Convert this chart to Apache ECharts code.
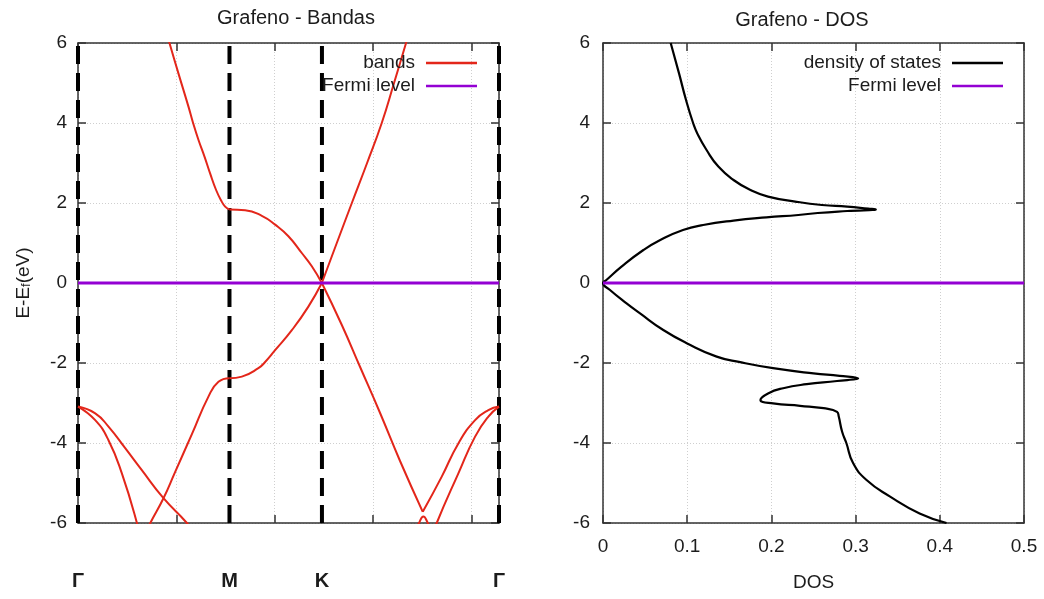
<!DOCTYPE html>
<html><head><meta charset="utf-8">
<script src="https://cdn.jsdelivr.net/npm/echarts@6/dist/echarts.min.js"></script>
<style>html,body{margin:0;padding:0;background:#fff}#c{width:1044px;height:599px}</style>
</head><body><div id="c"></div>
<script>
// ---- k-path (high-symmetry points) ----
const kPoints = [0, 1.54, 2.48, 4.28];
const kLabels = ['Γ', 'M', 'K', 'Γ'];
const energyRange = [-6, 6];
const fermiLevel = 0;
const dosRange = [0, 0.5];

// ---- band segments, [k, E(eV)] ----
const piStarGM = [[0.866,6.55],[0.930,6.0],[1.021,5.24],[1.123,4.41],[1.170,4.0],[1.225,3.575],[1.286,3.16],[1.343,2.74],[1.404,2.325],[1.452,2.075],[1.496,1.91],[1.54,1.84]];
const piStarMK = [[1.54,1.84],[1.699,1.82],[1.869,1.68],[2.004,1.46],[2.139,1.17],[2.275,0.75],[2.377,0.42],[2.479,0.0]];
const piStarKG = [[2.479,0.0],[2.631,1.0],[2.784,2.0],[2.939,3.0],[3.088,4.0],[3.213,5.0],[3.335,6.0],[3.396,6.5]];
const piKM = [[2.479,0.0],[2.342,-0.59],[2.174,-1.18],[2.004,-1.68],[1.900,-1.98],[1.834,-2.13],[1.666,-2.34],[1.54,-2.38]];
const piMG = [[1.54,-2.38],[1.428,-2.47],[1.326,-2.84],[1.158,-3.78],[0.988,-4.72],[0.869,-5.38],[0.735,-6.0],[0.65,-6.45]];
const sigmaSteepLeft = [[0,-3.09],[0.175,-3.43],[0.310,-3.93],[0.446,-4.76],[0.599,-6.0],[0.652,-6.6]];
const sigmaFlatLeft = [[0,-3.09],[0.175,-3.26],[0.310,-3.59],[0.480,-4.13],[0.649,-4.68],[0.869,-5.38],[1.107,-6.0],[1.191,-6.3]];
const piKV = [[2.479,0.0],[2.682,-1.05],[2.868,-2.1],[3.071,-3.25],[3.274,-4.45],[3.505,-5.72]];
const sigmaOuterRight = [[3.505,-5.72],[3.698,-4.84],[3.867,-4.01],[4.037,-3.43],[4.172,-3.18],[4.28,-3.09]];
const sigmaInnerRight = [[3.579,-6.5],[3.647,-6.0],[3.867,-4.76],[4.037,-3.84],[4.172,-3.34],[4.28,-3.09]];
const crossLower = [[3.417,-6.25],[3.467,-6.0],[3.511,-5.84],[3.556,-6.0],[3.600,-6.25]];

// ---- density of states ----
const dosE = [6.0,5.24,4.575,4.0,3.74,3.325,2.91,2.575,2.325,2.16,2.03,1.95,1.91,1.86,1.84,1.80,1.75,1.70,1.64,1.56,1.45,1.325,1.075,0.825,0.41,0.075,0,
  -0.175,-0.51,-0.76,-1.175,-1.51,-1.84,-1.98,-2.13,-2.26,-2.32,-2.38,-2.45,-2.53,-2.63,-2.76,-2.925,-3.01,-3.07,-3.13,-3.22,-3.34,-3.72,-4.0,-4.5,-4.925,-5.34,-5.76,-6.0];
const dosVal = [0.0804,0.0903,0.0986,0.107,0.112,0.123,0.137,0.155,0.175,0.196,0.230,0.260,0.290,0.315,0.324,0.290,0.255,0.232,0.194,0.155,0.119,0.095,0.068,0.048,0.022,0.004,0,
  0.0083,0.028,0.044,0.0716,0.100,0.135,0.163,0.202,0.250,0.281,0.303,0.278,0.242,0.214,0.196,0.187,0.202,0.234,0.262,0.278,0.280,0.284,0.289,0.297,0.313,0.341,0.376,0.408];

const RED = '#e3261a', PURPLE = '#9400d3', TXT = '#1c1c1c', FONT = 'Liberation Sans';
const chart = echarts.init(document.getElementById('c'));

const gridLine = { show: true, lineStyle: { color: '#cfcfcf', type: [1, 2], width: 1 } };
const axLine = { show: true, onZero: false, lineStyle: { color: '#333', width: 1.5 } };
const tick = { show: true, inside: true, length: 8, lineStyle: { color: '#333', width: 1.5 } };
const lbl = { color: TXT, fontFamily: FONT, fontSize: 19 };

function bandSeries(data) {
  return { type: 'line', name: 'bands', xAxisIndex: 0, yAxisIndex: 0, data: data, smooth: 0.5,
    symbol: 'none', clip: true, lineStyle: { color: RED, width: 2 }, itemStyle: { color: RED }, z: 3 };
}
const kLines = kPoints.map(k => ({ type: 'line', name: 'kpath', xAxisIndex: 0, yAxisIndex: 0,
  data: [[k, energyRange[0]], [k, energyRange[1]]], symbol: 'none', silent: true,
  lineStyle: { color: '#000', width: 4, type: [18, 9] }, z: 2 }));

const legendBase = { orient: 'vertical', align: 'right', top: 53, padding: 0, icon: 'rect',
  itemWidth: 51, itemHeight: 2.5, itemGap: 3, textStyle: { ...lbl, lineHeight: 20, padding: [0, 6, 0, 0] } };

const option = {
  animation: false,
  backgroundColor: '#fff',
  textStyle: { fontFamily: FONT },
  title: [
    { text: 'Grafeno - Bandas', left: 296, top: 8, textAlign: 'center', padding: 0,
      textStyle: { fontFamily: FONT, fontSize: 20, fontWeight: 'normal', color: TXT } },
    { text: 'Grafeno - DOS', left: 802, top: 10, textAlign: 'center', padding: 0,
      textStyle: { fontFamily: FONT, fontSize: 20, fontWeight: 'normal', color: TXT } }
  ],
  legend: [
    { ...legendBase, data: ['bands', 'Fermi level'], right: 567 },
    { ...legendBase, data: ['density of states', 'Fermi level'], right: 41 }
  ],
  grid: [
    { left: 78, right: 545, top: 43, bottom: 76 },
    { left: 603, right: 20, top: 43, bottom: 76 }
  ],
  xAxis: [
    { type: 'value', gridIndex: 0, position: 'bottom', min: kPoints[0], max: kPoints[kPoints.length - 1], interval: 1,
      axisLine: axLine, axisTick: tick, splitLine: gridLine,
      axisLabel: { ...lbl, fontSize: 20, fontWeight: 'bold', margin: 48, customValues: kPoints,
        formatter: v => { const i = kPoints.findIndex(k => Math.abs(k - v) < 1e-6); return i >= 0 ? kLabels[i] : ''; } } },
    { type: 'value', gridIndex: 0, position: 'top', min: kPoints[0], max: kPoints[kPoints.length - 1], interval: 1,
      axisLine: axLine, axisTick: tick, axisLabel: { show: false }, splitLine: { show: false } },
    { type: 'value', gridIndex: 1, position: 'bottom', min: dosRange[0], max: dosRange[1], interval: 0.1,
      axisLine: axLine, axisTick: tick, splitLine: gridLine, axisLabel: { ...lbl, margin: 14 },
      name: 'DOS', nameLocation: 'middle', nameGap: 50, nameTextStyle: { ...lbl } },
    { type: 'value', gridIndex: 1, position: 'top', min: dosRange[0], max: dosRange[1], interval: 0.1,
      axisLine: axLine, axisTick: tick, axisLabel: { show: false }, splitLine: { show: false } }
  ],
  yAxis: [
    { type: 'value', gridIndex: 0, position: 'left', min: energyRange[0], max: energyRange[1], interval: 2,
      axisLine: axLine, axisTick: tick, splitLine: gridLine, axisLabel: { ...lbl, margin: 11 },
      name: 'E-E{f|f}(eV)', nameLocation: 'middle', nameGap: 45,
      nameTextStyle: { ...lbl, rich: { f: { fontFamily: FONT, fontSize: 13, color: TXT, verticalAlign: 'bottom' } } } },
    { type: 'value', gridIndex: 0, position: 'right', min: energyRange[0], max: energyRange[1], interval: 2,
      axisLine: axLine, axisTick: tick, axisLabel: { show: false }, splitLine: { show: false } },
    { type: 'value', gridIndex: 1, position: 'left', min: energyRange[0], max: energyRange[1], interval: 2,
      axisLine: axLine, axisTick: tick, splitLine: gridLine, axisLabel: { ...lbl, margin: 13 } },
    { type: 'value', gridIndex: 1, position: 'right', min: energyRange[0], max: energyRange[1], interval: 2,
      axisLine: axLine, axisTick: tick, axisLabel: { show: false }, splitLine: { show: false } }
  ],
  series: [
    ...kLines,
    bandSeries(piStarGM), bandSeries(piStarMK), bandSeries(piStarKG),
    bandSeries(piKM), bandSeries(piMG), bandSeries(sigmaSteepLeft), bandSeries(sigmaFlatLeft),
    bandSeries(piKV), bandSeries(sigmaOuterRight), bandSeries(sigmaInnerRight), bandSeries(crossLower),
    { type: 'line', name: 'Fermi level', xAxisIndex: 0, yAxisIndex: 0,
      data: [[kPoints[0], fermiLevel], [kPoints[kPoints.length - 1], fermiLevel]], symbol: 'none',
      lineStyle: { color: PURPLE, width: 3 }, itemStyle: { color: PURPLE }, z: 4 },
    { type: 'line', name: 'density of states', xAxisIndex: 2, yAxisIndex: 2,
      data: dosE.map((e, i) => [dosVal[i], e]), symbol: 'none', smooth: 0.5, clip: true,
      lineStyle: { color: '#000', width: 2.2 }, itemStyle: { color: '#000' }, z: 3 },
    { type: 'line', name: 'Fermi level', xAxisIndex: 2, yAxisIndex: 2,
      data: [[dosRange[0], fermiLevel], [dosRange[1], fermiLevel]], symbol: 'none',
      lineStyle: { color: PURPLE, width: 3 }, itemStyle: { color: PURPLE }, z: 4 }
  ]
};
chart.setOption(option);
</script></body></html>
